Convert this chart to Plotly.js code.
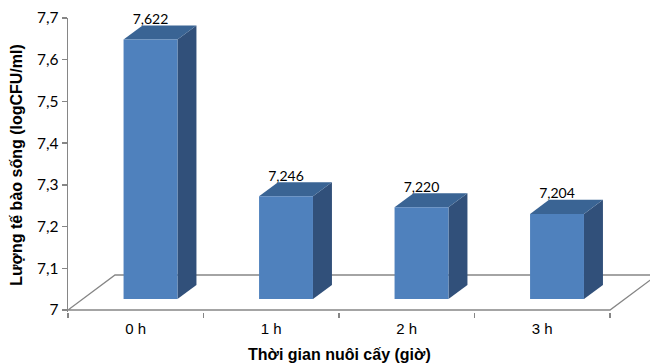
<!DOCTYPE html>
<html><head><meta charset="utf-8">
<script src="https://cdn.plot.ly/plotly-3.0.1.min.js"></script>
<style>html,body{margin:0;padding:0;background:#fff;}#chart{width:650px;height:363px;}</style>
</head><body><div id="chart"></div>
<script>
const categories = ["0 h", "1 h", "2 h", "3 h"];
const values = [7.622, 7.246, 7.220, 7.204];
const yTickVals = [7, 7.1, 7.2, 7.3, 7.4, 7.5, 7.6, 7.7];
const yTitle = "Lượng tế bào sống (logCFU/ml)";
const xTitle = "Thời gian nuôi cấy (giờ)";

// 3D projection constants (in axis units)
const base = 7;
const floorDX = 0.347, floorDY = 0.0839;   // floor depth offset
const barShiftX = 0.109, barShiftY = 0.0264; // bar front face offset from floor front
const barDX = 0.140, barDY = 0.0336;        // bar depth offset
const halfW = 0.199;

const cFront = "#4F81BD", cTop = "#3A6494", cSide = "#31507A";
const gray = "#868686";

const n = categories.length;
const xs = categories.map((_, i) => i);
const traces = [];

// floor outline (drawn below traces as a shape)
const fx0 = -0.5, fx1 = n - 0.5;
const floorPts = [[fx0, base], [fx1, base], [fx1 + floorDX, base + floorDY], [fx0 + floorDX, base + floorDY]];
const floorPath = "M" + floorPts.map(p => p[0] + "," + p[1]).join(" L") + " Z";

function poly(px, py, color) {
  traces.push({
    type: "scatter", mode: "lines", fill: "toself", hoverinfo: "skip", showlegend: false,
    x: px, y: py, fillcolor: color, line: { width: 0, color: color }
  });
}

// bars
xs.forEach((c, i) => {
  const v = values[i];
  const xl = c + barShiftX - halfW, xr = c + barShiftX + halfW;
  const yb = base + barShiftY, yt = v + barShiftY;
  poly([xr, xr + barDX, xr + barDX, xr, xr], [yb, yb + barDY, yt + barDY, yt, yb], cSide);
  poly([xl, xr, xr + barDX, xl + barDX, xl], [yt, yt, yt + barDY, yt + barDY, yt], cTop);
  poly([xl, xr, xr, xl, xl], [yb, yb, yt, yt, yb], cFront);
});
// value labels
traces.push({
  type: "scatter", mode: "text", showlegend: false, hoverinfo: "skip", cliponaxis: false,
  x: xs.map(c => c + barShiftX),
  y: values.map(v => v + barShiftY + barDY + 0.012),
  text: values.map(v => v.toFixed(3).replace(".", ",")),
  textposition: "middle center",
  textfont: { family: "Lato, 'Open Sans', sans-serif", size: 14, color: "#000" }
});
const bounds = [];
for (let i = 0; i <= n; i++) bounds.push(i - 0.5);

const xRange = [-0.5, -0.5 + 582 / 135.5];
const titleFont = { family: "'Liberation Sans', Arial, sans-serif", size: 16, color: "#000", weight: "bold" };
const layout = {
  width: 650, height: 363,
  margin: { l: 68, r: 0, t: 18, b: 51 },
  paper_bgcolor: "#fff", plot_bgcolor: "rgba(0,0,0,0)",
  separators: ",.",
  xaxis: {
    range: xRange, showgrid: false, zeroline: false, showline: false,
    tickvals: bounds, ticktext: bounds.map(() => ""), ticks: "outside", ticklen: 5,
    tickcolor: gray, tickwidth: 1.3, fixedrange: true
  },
  xaxis2: {
    overlaying: "x", side: "bottom", range: xRange, showgrid: false, zeroline: false,
    showline: false, tickvals: xs, ticktext: categories, ticks: "",
    tickfont: { family: "'Liberation Sans', Arial, sans-serif", size: 15, color: "#000" },
    ticklabelstandoff: 6
  },
  yaxis: {
    range: [base - 0.0048, 7.7], tickvals: yTickVals, showgrid: false, zeroline: false,
    showline: true, linecolor: gray, linewidth: 1.3, ticks: "outside", ticklen: 5,
    tickcolor: gray, tickwidth: 1.3,
    tickfont: { family: "Lato, 'Open Sans', sans-serif", size: 15.5, color: "#000" },
    title: { text: yTitle, font: titleFont, standoff: 10 }
  },
  shapes: [{
    type: "path", xref: "x", yref: "y", layer: "below", path: floorPath,
    line: { color: gray, width: 1.3 }, fillcolor: "rgba(0,0,0,0)"
  }],
  annotations: [{
    text: xTitle, xref: "x", yref: "paper", x: 1.5, y: 0, yshift: -42,
    showarrow: false, xanchor: "center", yanchor: "middle", font: titleFont
  }]
};
traces.push({ type: "scatter", x: [0], y: [base], xaxis: "x2", mode: "markers", marker: { opacity: 0 }, hoverinfo: "skip", showlegend: false });

Plotly.newPlot("chart", traces, layout, { displayModeBar: false, staticPlot: true });
</script></body></html>
